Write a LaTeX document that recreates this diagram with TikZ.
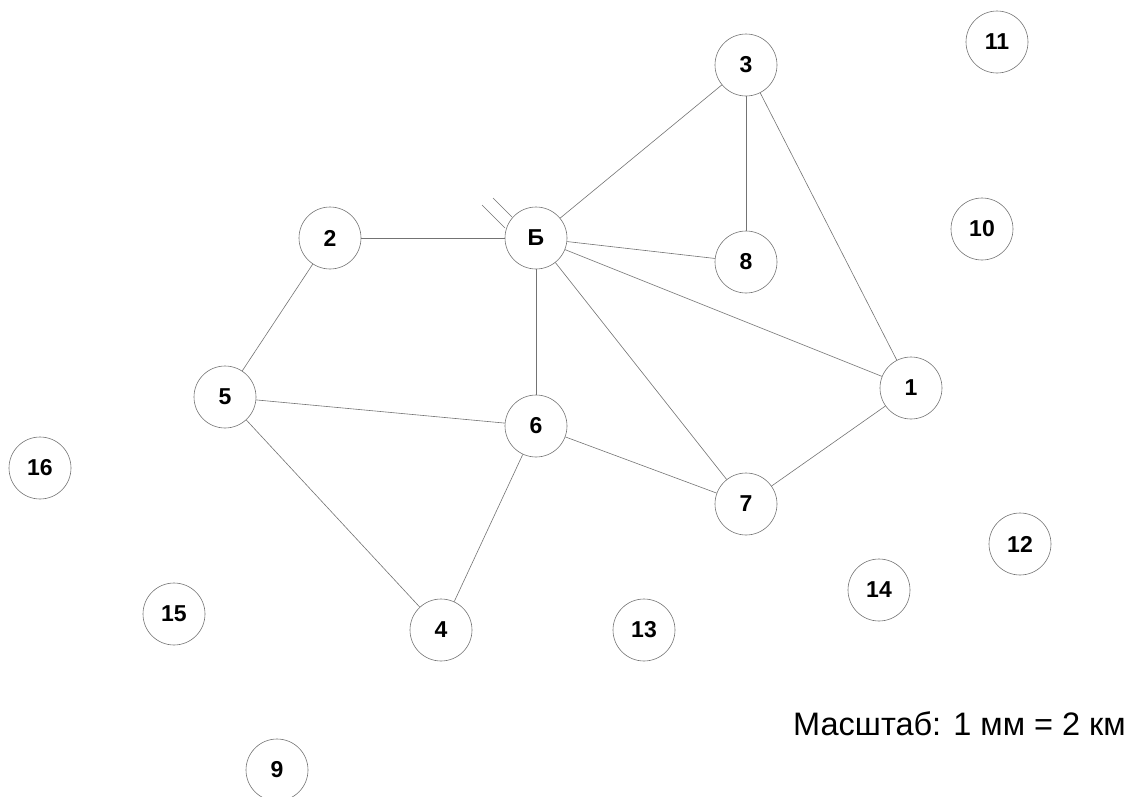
\documentclass[tikz,border=0pt]{standalone}
\usepackage{fontspec}
\setmainfont{Liberation Sans}
\begin{document}
\begin{tikzpicture}[x=1pt,y=-1pt,
  vtx/.style={circle,draw=black!55,line width=0.6pt,fill=white,minimum size=62pt,inner sep=0pt,font=\fontsize{23}{23}\selectfont\bfseries},
  edge/.style={draw=black!55,line width=0.6pt}]
\useasboundingbox (0,0) rectangle (1128,796);
\begin{scope}
\clip (0,0) rectangle (1128,796);
\node[vtx] (n3) at (746,65) {3};
\node[vtx] (n11) at (997,42) {11};
\node[vtx] (n10) at (982,229) {10};
\node[vtx] (n2) at (330,238) {2};
\node[vtx] (nB) at (536,238) {Б};
\node[vtx] (n8) at (746,262) {8};
\node[vtx] (n1) at (911,388) {1};
\node[vtx] (n5) at (225,397) {5};
\node[vtx] (n6) at (536,426) {6};
\node[vtx] (n16) at (40,468) {16};
\node[vtx] (n7) at (746,504) {7};
\node[vtx] (n12) at (1020,544) {12};
\node[vtx] (n14) at (879,590) {14};
\node[vtx] (n15) at (174,614) {15};
\node[vtx] (n4) at (441,630) {4};
\node[vtx] (n13) at (644,630) {13};
\node[vtx] (n9) at (277,770) {9};
\end{scope}
\draw[edge] (n3) -- (nB);
\draw[edge] (n3) -- (n8);
\draw[edge] (n3) -- (n1);
\draw[edge] (n2) -- (nB);
\draw[edge] (nB) -- (n8);
\draw[edge] (nB) -- (n1);
\draw[edge] (nB) -- (n6);
\draw[edge] (nB) -- (n7);
\draw[edge] (n2) -- (n5);
\draw[edge] (n5) -- (n6);
\draw[edge] (n5) -- (n4);
\draw[edge] (n6) -- (n4);
\draw[edge] (n6) -- (n7);
\draw[edge] (n7) -- (n1);
\coordinate (t1a) at (493,198);
\coordinate (t1b) at (512,217);
\coordinate (t2a) at (482,205);
\coordinate (t2b) at (505,228);
\draw[edge] (t1a) -- (t1b);
\draw[edge] (t2a) -- (t2b);
\node[anchor=east,inner sep=0pt,font=\fontsize{32.5}{32.5}\selectfont] (scale) at (1126,724) {Масштаб: 1 мм = 2 км};
\end{tikzpicture}
\end{document}
